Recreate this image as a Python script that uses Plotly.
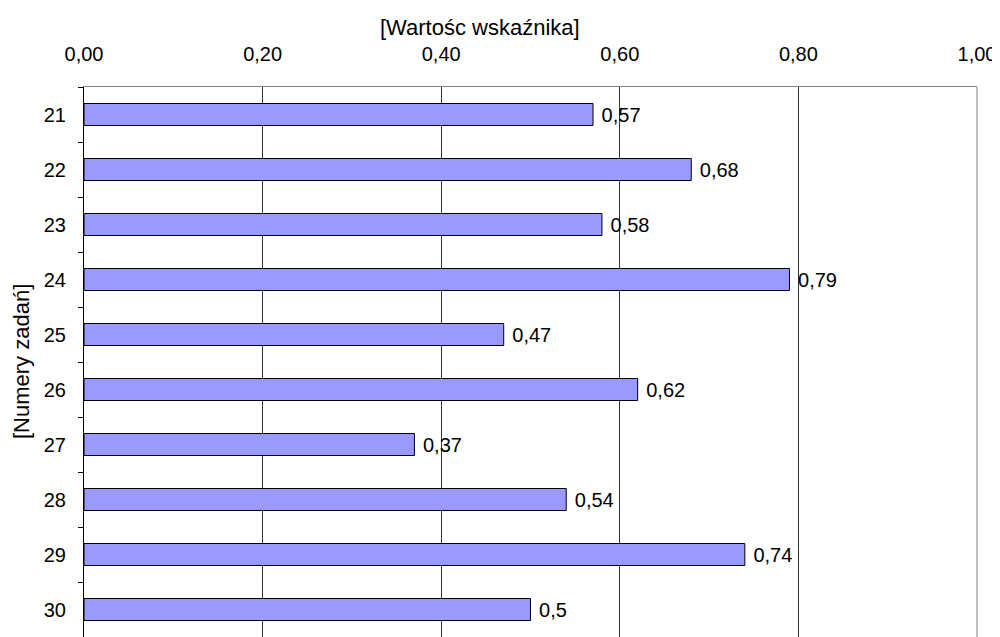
import plotly.graph_objects as go

# Numery zadań i wartości wskaźnika
tasks = ["21", "22", "23", "24", "25", "26", "27", "28", "29", "30"]
values = [0.57, 0.68, 0.58, 0.79, 0.47, 0.62, 0.37, 0.54, 0.74, 0.5]
labels = [str(v).replace(".", ",") for v in values]

x_ticks = [0, 0.2, 0.4, 0.6, 0.8, 1.0]
x_tick_text = ["0,00", "0,20", "0,40", "0,60", "0,80", "1,00"]

FONT = "Liberation Sans, Arial, sans-serif"
SIZE = 20
TITLE_SIZE = 22

fig = go.Figure(go.Bar(
    x=values,
    y=tasks,
    orientation="h",
    width=0.4,
    marker=dict(color="#9999FF", line=dict(color="#000000", width=1)),
    text=labels,
    texttemplate="\u00a0%{text}",
    textposition="outside",
    constraintext="none",
    textfont=dict(size=SIZE, color="#000000", family=FONT),
    cliponaxis=False,
))

# the page body adds an 8px offset, margins compensate for it
fig.update_layout(
    width=1000,
    height=637,
    margin=dict(l=76, r=31, t=79, b=8),
    plot_bgcolor="white",
    paper_bgcolor="white",
    font=dict(family=FONT, size=SIZE, color="#000000"),
    showlegend=False,
    xaxis=dict(
        side="top",
        range=[0, 1],
        tickvals=x_ticks,
        ticktext=x_tick_text,
        showgrid=True,
        gridcolor="#333333",
        gridwidth=1,
        zeroline=False,
        showline=True,
        linecolor="#808080",
        linewidth=1,
        mirror=True,
        ticks="",
        ticklabelstandoff=17,
        automargin=False,
    ),
    yaxis=dict(
        autorange="reversed",
        showline=True,
        linecolor="#000000",
        linewidth=1,
        ticks="outside",
        tickson="boundaries",
        ticklen=5,
        tickcolor="#000000",
        ticklabelstandoff=13,
        showgrid=False,
        automargin=False,
    ),
    shapes=[dict(type="line", xref="paper", yref="paper", x0=1, x1=1, y0=0, y1=1,
                 line=dict(color="#808080", width=1))],
    annotations=[
        dict(text="[Wartośc wskaźnika]", xref="paper", yref="paper",
             x=(480 - 84) / 893, y=1, yshift=60, xanchor="center", yanchor="middle",
             showarrow=False, font=dict(size=TITLE_SIZE)),
        dict(text="[Numery zadań]", xref="paper", yref="paper",
             x=0, xshift=-63, y=0.5, textangle=-90, xanchor="center", yanchor="middle",
             showarrow=False, font=dict(size=TITLE_SIZE)),
    ],
)

fig.write_html("out.html")
